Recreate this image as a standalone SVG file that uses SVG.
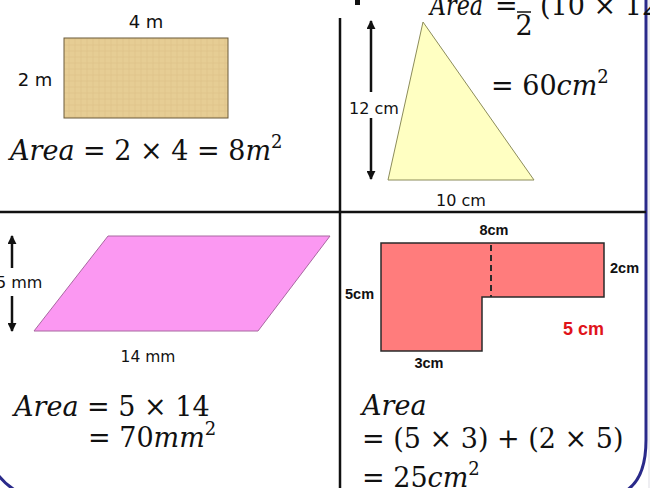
<svg xmlns="http://www.w3.org/2000/svg" width="650" height="488" viewBox="0 0 650 488">
<style>
.lbl{font-family:"DejaVu Sans","Liberation Sans",sans-serif;fill:#111}
.bl{font-family:"Liberation Sans",Arial,sans-serif;font-weight:bold;fill:#111}
.m{font-family:"DejaVu Serif","Liberation Serif",serif;font-size:27px;fill:#111}
.i{font-style:italic}
.sup{font-size:18px}
.div{stroke:#111;stroke-width:2.5;fill:none}
.arr{stroke:#111;stroke-width:2.5;fill:none}
</style>
<defs>
<marker id="ah" viewBox="0 0 10 10" refX="9" refY="5" markerWidth="9" markerHeight="9" markerUnits="userSpaceOnUse" orient="auto">
<path d="M0,0 L10,5 L0,10 z" fill="#111"/>
</marker>
<pattern id="tex" width="6" height="6" patternUnits="userSpaceOnUse">
<rect width="6" height="6" fill="#e6cd94"/>
<path d="M0,3 H6 M3,0 V6" stroke="#d8bd80" stroke-width="0.8" opacity="0.6"/>
</pattern>
</defs>
<rect width="650" height="488" fill="#ffffff"/>
<rect x="648" y="0" width="2" height="488" fill="#eeeef2"/>
<rect x="355" y="0" width="5" height="5" fill="#111"/>

<g id="frame" fill="none" stroke="#2a2a8a" stroke-width="3">
<path d="M646,0 V440 Q646,480 624,492"/>
<path d="M-4,472 Q4,484 18,492"/>
</g>

<g id="dividers">
<line class="div" x1="340" y1="18" x2="340" y2="488"/>
<line class="div" x1="0" y1="212" x2="646" y2="212"/>
</g>

<g id="rectangle">
<rect x="64" y="38" width="164" height="80" fill="url(#tex)" stroke="#6b5a3a" stroke-width="1"/>
<text class="lbl" x="146" y="28" font-size="18" text-anchor="middle">4 m</text>
<text class="lbl" x="35" y="86" font-size="18" text-anchor="middle">2 m</text>
<text class="m" x="10" y="160"><tspan class="i">Area</tspan> = 2 × 4 = 8<tspan class="i">m</tspan><tspan class="sup" dy="-12">2</tspan></text>
</g>

<g id="triangle">
<polygon points="423,22 388,180 534,180" fill="#ffffc2" stroke="#8c8c5a" stroke-width="1"/>
<text class="lbl" x="374" y="114" font-size="16" text-anchor="middle">12 cm</text>
<text class="lbl" x="461" y="206" font-size="16" text-anchor="middle">10 cm</text>
<text class="m i" x="430" y="15" font-size="24" textLength="53" lengthAdjust="spacingAndGlyphs">Area</text>
<text class="m" x="495" y="15" font-size="24">=</text>
<line x1="517" y1="12" x2="531" y2="12" stroke="#111" stroke-width="1.5"/>
<text class="m" x="524" y="35" font-size="20" text-anchor="middle">2</text>
<text class="m" x="540" y="15" font-size="24">(10 × 12)</text>
<text class="m" x="491" y="95">= 60<tspan class="i">cm</tspan><tspan class="sup" dy="-12">2</tspan></text>
</g>

<g id="parallelogram">
<polygon points="108,236 330,236 258,331 34,331" fill="#fb98f2" stroke="#a868a0" stroke-width="1"/>
<text class="lbl" x="-4" y="288" font-size="16">5 mm</text>
<text class="lbl" x="148" y="362" font-size="15.5" text-anchor="middle">14 mm</text>
<text class="m" x="14" y="416" font-size="26.5"><tspan class="i">Area</tspan> = 5 × 14</text>
<text class="m" x="88" y="447">= 70<tspan class="i">mm</tspan><tspan class="sup" dy="-12">2</tspan></text>
</g>

<g id="lshape">
<path d="M381,243 H604 V297 H482 V351 H381 Z" fill="#ff7c7c" stroke="#2a2a2a" stroke-width="1.5"/>
<line x1="491" y1="245" x2="491" y2="297" stroke="#2a2a2a" stroke-width="2" stroke-dasharray="6,4"/>
<text class="bl" x="494" y="235" font-size="14.5" text-anchor="middle">8cm</text>
<text class="bl" x="610" y="273" font-size="14.5">2cm</text>
<text class="bl" x="345" y="299" font-size="14.5">5cm</text>
<text class="bl" x="429" y="368" font-size="14.5" text-anchor="middle">3cm</text>
<text class="bl" x="563" y="335" font-size="18" style="fill:#e0141a">5 cm</text>
<text class="m" x="362" y="415"><tspan class="i">Area</tspan></text>
<text class="m" x="362" y="448">= (5 × 3) + (2 × 5)</text>
<text class="m" x="362" y="487">= 25<tspan class="i">cm</tspan><tspan class="sup" dy="-12">2</tspan></text>
</g>

<g id="connectors">
<line class="arr" x1="371" y1="92" x2="371" y2="21" marker-end="url(#ah)"/>
<line class="arr" x1="371" y1="118" x2="371" y2="179" marker-end="url(#ah)"/>
<line class="arr" x1="12" y1="268" x2="12" y2="236" marker-end="url(#ah)"/>
<line class="arr" x1="12" y1="296" x2="12" y2="331" marker-end="url(#ah)"/>
</g>
</svg>
